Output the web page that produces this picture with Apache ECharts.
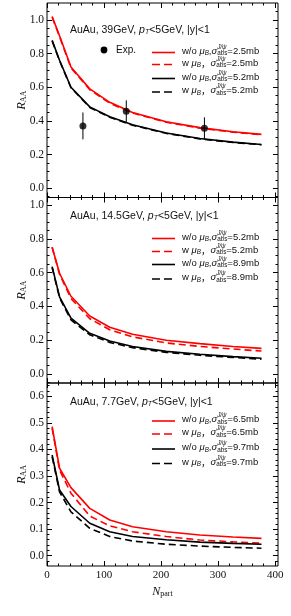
<!DOCTYPE html>
<html><head><meta charset="utf-8">
<script src="https://cdn.jsdelivr.net/npm/echarts@6/dist/echarts.min.js"></script>
<style>html,body{margin:0;padding:0;background:#fff}#c{width:291px;height:616px}</style>
</head><body><div id="c"></div>
<script>
// ---------------- DATA ----------------
const npart = [9, 22, 42, 75, 110, 150, 209, 268, 326, 376];

// 39 GeV
const p1RedSolid    = [1.02, 0.905, 0.72, 0.59, 0.51, 0.45, 0.395, 0.36, 0.335, 0.32];
const p1RedDashed   = [1.015, 0.90, 0.715, 0.585, 0.505, 0.447, 0.392, 0.357, 0.333, 0.318];
const p1BlackSolid  = [0.878, 0.76, 0.60, 0.483, 0.425, 0.377, 0.328, 0.295, 0.274, 0.26];
const p1BlackDashed = [0.875, 0.757, 0.597, 0.48, 0.422, 0.374, 0.326, 0.293, 0.272, 0.258];
// 14.5 GeV
const p2RedSolid    = [0.75, 0.596, 0.46, 0.343, 0.277, 0.235, 0.20, 0.18, 0.163, 0.152];
const p2RedDashed   = [0.75, 0.59, 0.447, 0.327, 0.262, 0.22, 0.184, 0.163, 0.148, 0.136];
const p2BlackSolid  = [0.635, 0.457, 0.33, 0.241, 0.195, 0.163, 0.134, 0.117, 0.103, 0.093];
const p2BlackDashed = [0.63, 0.45, 0.32, 0.232, 0.187, 0.156, 0.128, 0.111, 0.098, 0.088];
// 7.7 GeV
const p3RedSolid    = [0.486, 0.329, 0.256, 0.178, 0.134, 0.109, 0.09, 0.078, 0.07, 0.065];
const p3RedDashed   = [0.48, 0.322, 0.235, 0.149, 0.112, 0.09, 0.072, 0.059, 0.052, 0.047];
const p3BlackSolid  = [0.379, 0.247, 0.185, 0.122, 0.09, 0.072, 0.06, 0.051, 0.046, 0.043];
const p3BlackDashed = [0.372, 0.24, 0.165, 0.103, 0.072, 0.055, 0.043, 0.036, 0.031, 0.028];

// experimental points (39 GeV)
const expNpart = [63, 139, 276];
const expRaa   = [0.37, 0.457, 0.356];
const expErr   = [0.08, 0.065, 0.065];

// ticks
const xTicks  = [0, 100, 200, 300, 400];
const p1YTicks = [0.0, 0.2, 0.4, 0.6, 0.8, 1.0];
const p2YTicks = [0.0, 0.2, 0.4, 0.6, 0.8, 1.0];
const p3YTicks = [0.0, 0.1, 0.2, 0.3, 0.4, 0.5, 0.6];

// texts
const panelEnergies = ['39GeV', '14.5GeV', '7.7GeV'];
const sigmaRed   = ['2.5mb', '5.2mb', '6.5mb'];
const sigmaBlack = ['5.2mb', '8.9mb', '9.7mb'];

// ---------------- LAYOUT ----------------
const X_MIN = 0, X_MAX = 405;
const grids = [
  {top: 3,     height: 194.5, min: -0.055, max: 1.10, ticks: p1YTicks, minorStep: 0.05},
  {top: 197.5, height: 185.5, min: -0.053, max: 1.044, ticks: p2YTicks, minorStep: 0.05},
  {top: 383,   height: 183,   min: -0.039, max: 0.65, ticks: p3YTicks, minorStep: 0.02}
];
const GL = 47, GW = 231;

function minorVals(min, max, step, majors) {
  const out = [];
  const start = Math.ceil((min + 1e-9) / step);
  for (let k = start; k * step < max - 1e-6; k++) {
    const v = +(k * step).toFixed(4);
    if (!majors.some(m => Math.abs(m - v) < 1e-6)) out.push(v);
  }
  return out;
}
const xMinor = minorVals(X_MIN, X_MAX, 20, xTicks);

const SERIF = '"Liberation Serif","Times New Roman",serif';
const SANS = '"Liberation Sans",Arial,sans-serif';
const CJK = '"Noto Sans CJK SC"';
const TXT = '#111';

const xAxes = [], yAxes = [];
grids.forEach((g, gi) => {
  const isLast = gi === grids.length - 1;
  const mk = (pos, vals, len, labels, named) => {
    const a = {
      type: 'value', gridIndex: gi, position: pos, min: X_MIN, max: X_MAX,
      axisLine: {show: false, onZero: false}, splitLine: {show: false}, minorTick: {show: false},
      axisTick: {show: true, inside: true, length: len, customValues: vals, lineStyle: {color: '#000', width: 1}},
      axisLabel: {show: labels, customValues: vals, margin: 4, color: TXT, fontFamily: SERIF, fontSize: 11}
    };
    if (named) {
      a.name = '{i|N}{s|part}';
      a.nameLocation = 'middle';
      a.nameGap = 20;
      a.nameMoveOverlap = false;
      a.nameTextStyle = {rich: {
        i: {fontFamily: SERIF, fontStyle: 'italic', fontSize: 12, color: TXT, lineHeight: 12},
        s: {fontFamily: SERIF, fontSize: 8, color: TXT, verticalAlign: 'bottom', lineHeight: 12}
      }};
    }
    return a;
  };
  xAxes.push(mk('bottom', xTicks, 5, isLast, isLast));
  xAxes.push(mk('bottom', xMinor, 2.5, false, false));
  xAxes.push(mk('top', xTicks, 5, false, false));
  xAxes.push(mk('top', xMinor, 2.5, false, false));

  const yMinor = minorVals(g.min, g.max, g.minorStep, g.ticks);
  const mky = (pos, vals, len, labels, named) => {
    const a = {
      type: 'value', gridIndex: gi, position: pos, min: g.min, max: g.max,
      axisLine: {show: false, onZero: false}, splitLine: {show: false}, minorTick: {show: false},
      axisTick: {show: true, inside: true, length: len, customValues: vals, lineStyle: {color: '#000', width: 1}},
      axisLabel: {show: labels, customValues: vals, margin: 3, color: TXT, fontFamily: SERIF, fontSize: 11.5,
                  formatter: v => v.toFixed(1)}
    };
    if (named) {
      a.name = '{i|R}{s|AA}';
      a.nameLocation = 'middle';
      a.nameGap = 19;
      a.nameMoveOverlap = false;
      a.nameTextStyle = {rich: {
        i: {fontFamily: SERIF, fontStyle: 'italic', fontSize: 12.5, color: TXT, lineHeight: 12},
        s: {fontFamily: SERIF, fontSize: 8, color: TXT, verticalAlign: 'bottom', lineHeight: 12}
      }};
    }
    return a;
  };
  yAxes.push(mky('left', g.ticks, 5, true, true));
  yAxes.push(mky('left', yMinor, 2.5, false, false));
  yAxes.push(mky('right', g.ticks, 5, false, false));
  yAxes.push(mky('right', yMinor, 2.5, false, false));
});

const RED = '#ff0000', BLACK = '#000000';
const DASH = [7, 4];
const panelCurves = [
  [p1RedSolid, p1RedDashed, p1BlackSolid, p1BlackDashed],
  [p2RedSolid, p2RedDashed, p2BlackSolid, p2BlackDashed],
  [p3RedSolid, p3RedDashed, p3BlackSolid, p3BlackDashed]
];
const curveStyles = [
  {color: RED, type: 'solid'}, {color: RED, type: DASH},
  {color: BLACK, type: 'solid'}, {color: BLACK, type: DASH}
];
const series = [];
panelCurves.forEach((curves, gi) => {
  curves.forEach((vals, ci) => {
    series.push({
      type: 'line', xAxisIndex: gi * 4, yAxisIndex: gi * 4, symbol: 'none', silent: true,
      data: npart.map((x, i) => [x, vals[i]]),
      lineStyle: {color: curveStyles[ci].color, width: 1.6, type: curveStyles[ci].type},
      z: 3
    });
  });
});
// experimental error bars
series.push({
  type: 'custom', xAxisIndex: 0, yAxisIndex: 0, silent: true, z: 4,
  data: expNpart.map((x, i) => [x, expRaa[i], expErr[i]]),
  renderItem: (params, api) => {
    const x = api.value(0), y = api.value(1), e = api.value(2);
    const hi = api.coord([x, y + e]), lo = api.coord([x, y - e]);
    return {type: 'line', shape: {x1: hi[0], y1: hi[1], x2: lo[0], y2: lo[1]}, style: {stroke: '#000', lineWidth: 1}};
  }
});
series.push({
  type: 'scatter', xAxisIndex: 0, yAxisIndex: 0, symbol: 'circle', symbolSize: 7, silent: true, z: 5,
  itemStyle: {color: '#000'},
  data: expNpart.map((x, i) => [x, expRaa[i]])
});

// ---------------- TEXT HELPERS ----------------
const mctx = document.createElement('canvas').getContext('2d');
function tw(t, size, italic, fam) {
  mctx.font = (italic ? 'italic ' : '') + size + 'px ' + fam;
  return mctx.measureText(t).width;
}
function textEl(t, x, y, size, italic, fam) {
  return {type: 'text', x: x, y: y, silent: true, z: 10,
    style: {text: t, fontSize: size, fontStyle: italic ? 'italic' : 'normal', fontFamily: fam,
            fill: TXT, verticalAlign: 'middle', align: 'left'}};
}
function runText(x, y, parts) {
  const out = []; let cx = x;
  parts.forEach(p => {
    const fam = p.fam || SANS;
    if (p.sup !== undefined) {
      out.push(textEl(p.sup, cx, y + p.supDy, p.s, true, fam));
      out.push(textEl(p.sub, cx, y + p.subDy, p.s, false, fam));
      cx += Math.max(tw(p.sup, p.s, true, fam), tw(p.sub, p.s, false, fam));
    } else {
      out.push(textEl(p.t, cx, y + (p.dy || 0), p.s, !!p.i, fam));
      cx += tw(p.t, p.s, !!p.i, fam);
    }
  });
  return out;
}
function titleParts(en) {
  return [{t: 'AuAu, ' + en + ', ', s: 10.5}, {t: 'p', s: 10.5, i: true},
          {t: 'T', s: 7, i: true, dy: 2.5}, {t: '<5GeV, |y|<1', s: 10.5}];
}
function legendParts(withMu, sig) {
  const F = 9.5, f = 6.3;
  const pre = withMu ? [{t: 'w ', s: F}] : [{t: 'w/o ', s: F}];
  const comma = withMu ? {t: '\uFF0C', s: F, fam: CJK} : {t: ',', s: F};
  return pre.concat([
    {t: '\u03BC', s: F, i: true}, {t: 'B', s: f, i: true, dy: 2.5}, comma,
    {t: '\u03C3', s: F, i: true}, {sup: 'J/\u03C8', sub: 'abs', s: f, supDy: -4, subDy: 2.5},
    {t: '=' + sig, s: F}
  ]);
}

const graphic = [];
const titleY = [30, 216, 402];
const legendRows = [
  [52.5, 64.5, 78.5, 92],
  [238.5, 251.5, 264.5, 279],
  [421, 434, 449, 463.5]
];
const LX1 = 152, LX2 = 175, LTX = 182;
grids.forEach((g, gi) => {
  runText(70, titleY[gi], titleParts(panelEnergies[gi])).forEach(e => graphic.push(e));
  const rows = legendRows[gi];
  const specs = [
    {c: RED, d: null, mu: false, sig: sigmaRed[gi]},
    {c: RED, d: [8, 4], mu: true, sig: sigmaRed[gi]},
    {c: BLACK, d: null, mu: false, sig: sigmaBlack[gi]},
    {c: BLACK, d: [8, 4], mu: true, sig: sigmaBlack[gi]}
  ];
  specs.forEach((s, k) => {
    graphic.push({type: 'line', silent: true, z: 10, shape: {x1: LX1, y1: rows[k], x2: LX2, y2: rows[k]},
      style: {stroke: s.c, lineWidth: 1.6, lineDash: s.d}});
    runText(LTX, rows[k] - 1.5, legendParts(s.mu, s.sig)).forEach(e => graphic.push(e));
  });
});
// Exp. legend
graphic.push({type: 'circle', silent: true, z: 10, shape: {cx: 104, cy: 50, r: 3.4}, style: {fill: '#000'}});
graphic.push(textEl('Exp.', 116, 50, 10, false, SANS));

const option = {
  animation: false,
  backgroundColor: '#fff',
  grid: grids.map(g => ({left: GL, width: GW, top: g.top, height: g.height, show: true,
    borderColor: '#000', borderWidth: 1, backgroundColor: 'transparent', containLabel: false, outerBoundsMode: 'none'})),
  xAxis: xAxes,
  yAxis: yAxes,
  series: series,
  graphic: graphic
};
const chart = echarts.init(document.getElementById('c'), null, {renderer: 'canvas'});
chart.setOption(option);
</script></body></html>
